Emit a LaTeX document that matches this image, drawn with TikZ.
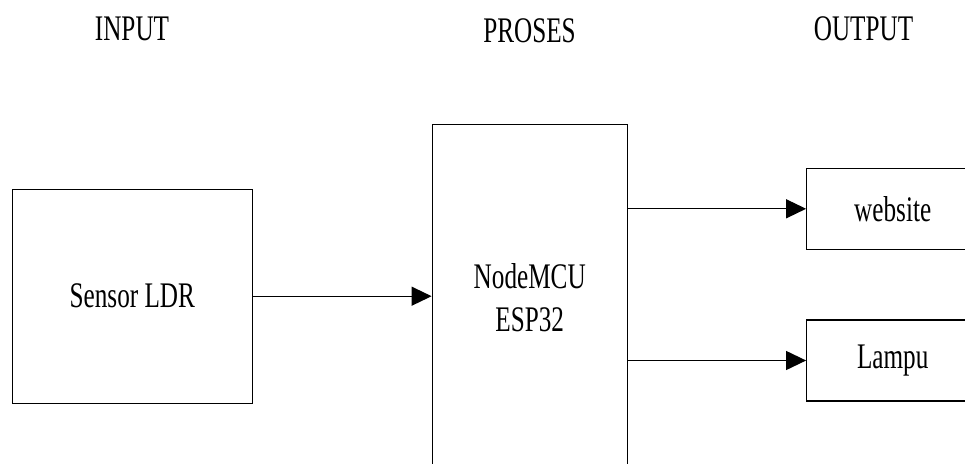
\documentclass[tikz,border=0pt]{standalone}
\usepackage{fontspec}
\setmainfont[FakeStretch=0.7]{Liberation Serif}
\usetikzlibrary{arrows.meta}
\tikzset{
    blok/.style={draw, line width=1.2pt, inner sep=0pt, align=center},
    panah/.style={line width=1.2pt, -{Triangle[length=20pt,width=19pt]}},
}
\begin{document}
\begin{tikzpicture}[x=1pt, y=-1pt, font=\fontsize{36}{43}\selectfont]
    \useasboundingbox (0,0) rectangle (965,463);
    % judul kolom
    \node[anchor=base] (judulinput) at (132,40) {INPUT};
    \node[anchor=base] (judulproses) at (529.5,42) {PROSES};
    \node[anchor=base] (juduloutput) at (863.5,40) {OUTPUT};
    % input
    \node[blok, minimum width=240pt, minimum height=214pt] (sensor) at (132.3,296.2) {Sensor LDR};
    % proses
    \node[blok, minimum width=195pt, minimum height=345pt] (nodemcu) at (529.7,297.2) {NodeMCU\\ESP32};
    % output
    \node[blok, minimum width=172pt, minimum height=81pt] (website) at (892.7,208.8) {website};
    \node[blok, minimum width=172pt, minimum height=81pt] (lampu) at (892.7,360.5) {Lampu};
    % panah
    \draw[panah] (sensor.east) -- (sensor.east -| nodemcu.west);
    \draw[panah] (nodemcu.east |- website.west) -- (website.west);
    \draw[panah] (nodemcu.east |- lampu.west) -- (lampu.west);
\end{tikzpicture}
\end{document}
